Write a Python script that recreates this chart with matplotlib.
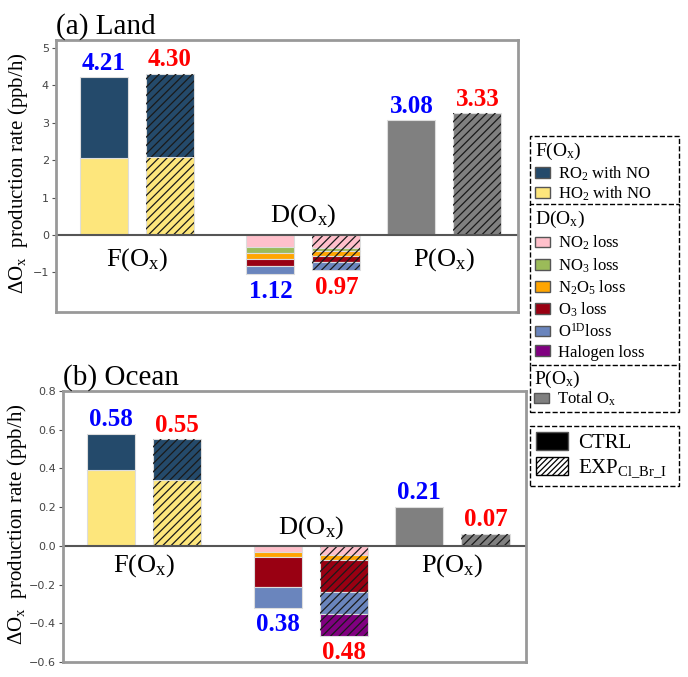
import numpy as np
import matplotlib.pyplot as plt
from matplotlib.patches import Patch

plt.rcParams['font.family'] = ['Liberation Serif', 'DejaVu Serif']
plt.rcParams['mathtext.fontset'] = 'custom'
plt.rcParams['mathtext.rm'] = 'Liberation Serif'
plt.rcParams['mathtext.it'] = 'Liberation Serif:italic'
plt.rcParams['mathtext.bf'] = 'Liberation Serif:bold'
plt.rcParams['hatch.linewidth'] = 0.9

# ---- data (ppb/h) ----
groups = ['F(O$_\\mathrm{x}$)', 'D(O$_\\mathrm{x}$)', 'P(O$_\\mathrm{x}$)']

f_names = ['RO$_2$ with NO', 'HO$_2$ with NO']
d_names = ['NO$_2$ loss', 'NO$_3$ loss', 'N$_2$O$_5$ loss', 'O$_3$ loss',
           'O$^{\\mathrm{1D}}$loss', 'Halogen loss']

# land: F(Ox) [HO2, RO2]
land_f_ctrl = [2.05, 2.16]
land_f_exp = [2.08, 2.22]
# land: D(Ox) [NO2, NO3, N2O5, O3, O1D, halogen]
land_d_ctrl = [0.33, 0.16, 0.16, 0.17, 0.23, 0.0]
land_d_exp = [0.36, 0.07, 0.12, 0.18, 0.21, 0.0]
land_p = [3.06, 3.25]
land_labels_f = ['4.21', '4.30']
land_labels_d = ['1.12', '0.97']
land_labels_p = ['3.08', '3.33']

# ocean
ocean_f_ctrl = [0.39, 0.19]
ocean_f_exp = [0.34, 0.21]
ocean_d_ctrl = [0.034, 0.0, 0.026, 0.152, 0.107, 0.0]
ocean_d_exp = [0.048, 0.0, 0.024, 0.164, 0.117, 0.112]
ocean_p = [0.20, 0.06]
ocean_labels_f = ['0.58', '0.55']
ocean_labels_d = ['0.38', '0.48']
ocean_labels_p = ['0.21', '0.07']

# ---- styles ----
c_ro2 = '#244a6b'
c_ho2 = '#fde67c'
d_colors = ['#ffc0cb', '#9bbb59', '#ffa500', '#990012', '#6a85bd', '#800080']
c_tot = '#808080'
grp_x = [0.0, 1.11, 2.05]
off = 0.22
bw = 0.32


def bar(ax, x, h, bottom, color, hatched):
    ax.bar(x, h, bw, bottom=bottom, color=color, edgecolor='#dddddd', linewidth=0.8)
    if hatched:
        ax.bar(x, h, bw, bottom=bottom, fill=False, hatch='////',
               edgecolor='#1a1a1a', linewidth=0)


def panel(ax, f_ctrl, f_exp, d_ctrl, d_exp, p, lf, ld, lp, ylim, yticks, fmt,
          title, dy_f, dy_d, lab_x):
    for i, (fv, hat) in enumerate([(f_ctrl, False), (f_exp, True)]):
        x = grp_x[0] + (2 * i - 1) * off
        bar(ax, x, fv[0], 0, c_ho2, hat)
        bar(ax, x, fv[1], fv[0], c_ro2, hat)
        ax.annotate(lf[i], (x, sum(fv)), xytext=(0, 2), textcoords='offset points',
                    ha='center', va='bottom', fontsize=18, fontweight='bold',
                    color='blue' if i == 0 else 'red')
    for i, (dv, hat) in enumerate([(d_ctrl, False), (d_exp, True)]):
        x = grp_x[1] + (2 * i - 1) * off
        bottom = 0
        for v, c in zip(dv, d_colors):
            if v > 0:
                bar(ax, x, -v, bottom, c, hat)
            bottom -= v
        ax.annotate(ld[i], (x, bottom), xytext=(0, -4), textcoords='offset points',
                    ha='center', va='top', fontsize=18, fontweight='bold',
                    color='blue' if i == 0 else 'red')
    for i in range(2):
        x = grp_x[2] + (2 * i - 1) * off
        bar(ax, x, p[i], 0, c_tot, i == 1)
        ax.annotate(lp[i], (x, p[i]), xytext=(0, 2), textcoords='offset points',
                    ha='center', va='bottom', fontsize=18, fontweight='bold',
                    color='blue' if i == 0 else 'red')

    ax.axhline(0, color='#555555', lw=1.5)
    ax.text(grp_x[0], dy_f, groups[0], ha='center', va='center', fontsize=19)
    ax.text(grp_x[1], dy_d, groups[1], ha='center', va='center', fontsize=19)
    ax.text(grp_x[2], dy_f, groups[2], ha='center', va='center', fontsize=19)

    ax.set_xlim(-0.54, 2.54)
    ax.set_ylim(*ylim)
    ax.set_xticks([])
    ax.set_yticks(yticks)
    ax.set_yticklabels([fmt.format(t).replace('-', '\u2212') for t in yticks],
                       family='DejaVu Sans', fontsize=8, color='#444444')
    ax.tick_params(axis='y', length=3, color='#555555', pad=2)
    for s in ax.spines.values():
        s.set_color('#999999')
        s.set_linewidth(2)
    ax.set_ylabel('$\\Delta$O$_\\mathrm{x}$  production rate (ppb/h)', fontsize=15)
    ax.yaxis.set_label_coords(lab_x, 0.51)
    ax.set_title(title, loc='left', fontsize=21, pad=2, x=0.0)


fig = plt.figure(figsize=(6.88, 6.77), dpi=100)
ax1 = fig.add_axes([0.0814, 0.539, 0.6715, 0.402])
ax2 = fig.add_axes([0.0916, 0.0222, 0.673, 0.4003])

panel(ax1, land_f_ctrl, land_f_exp, land_d_ctrl, land_d_exp, land_p,
      land_labels_f, land_labels_d, land_labels_p,
      (-2.06, 5.21), [-1, 0, 1, 2, 3, 4, 5], '{:d}', '(a) Land', -0.67, 0.53,
      -0.056)
panel(ax2, ocean_f_ctrl, ocean_f_exp, ocean_d_ctrl, ocean_d_exp, ocean_p,
      ocean_labels_f, ocean_labels_d, ocean_labels_p,
      (-0.6, 0.8), list(np.round(np.arange(-0.6, 0.81, 0.2), 1)), '{:.1f}',
      '(b) Ocean', -0.103, 0.095, -0.073)

# ---- legends ----
lx, lw = 530 / 688, 149 / 688


def box(handles, labels, top_px, title=None, fs=12, pad=0.3, **kw):
    top = 1 - top_px / 677
    leg = fig.legend(handles, labels, loc='upper left',
                     bbox_to_anchor=(lx, top - 0.01, lw, 0.01), mode='expand',
                     title=title, title_fontsize=14, fontsize=fs, alignment='left',
                     frameon=True, fancybox=False, framealpha=1, edgecolor='black',
                     borderaxespad=0, borderpad=pad, handletextpad=0.5, **kw)
    leg.get_frame().set_linestyle('--')
    leg.get_frame().set_linewidth(1)
    return leg


def sq(c, hatch=None):
    return Patch(facecolor=c, edgecolor='#555555', linewidth=1, hatch=hatch)


box([sq(c_ro2), sq(c_ho2)], f_names, 136, 'F(O$_\\mathrm{x}$)',
    handlelength=0.9, handleheight=0.6, labelspacing=0.12)
box([sq(c) for c in d_colors], d_names, 204, 'D(O$_\\mathrm{x}$)',
    handlelength=0.9, handleheight=0.6, labelspacing=0.23)
box([sq(c_tot)], ['Total O$_\\mathrm{x}$'], 365, 'P(O$_\\mathrm{x}$)', pad=0.22,
    handlelength=0.9, handleheight=0.6, labelspacing=0.0)
box([Patch(facecolor='black', edgecolor='#555555'),
     Patch(facecolor='white', edgecolor='black', hatch='//////')],
    ['CTRL', 'EXP$_{\\mathrm{Cl\\_Br\\_I}}$'], 426, fs=15,
    handlelength=1.5, handleheight=0.9, labelspacing=0.2)

fig.savefig('out.png', dpi=100)
